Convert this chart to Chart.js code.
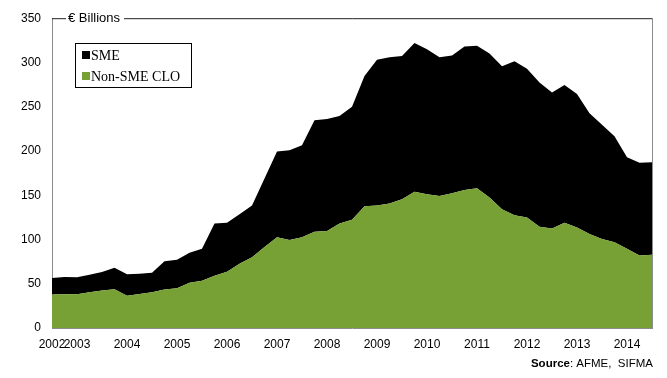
<!DOCTYPE html>
<html>
<head>
<meta charset="utf-8">
<script src="https://cdn.jsdelivr.net/npm/chart.js@4"></script>
<style>
  html, body { margin: 0; padding: 0; background: #fff; }
  #wrap { width: 667px; height: 378px; }
</style>
</head>
<body>
<div id="wrap"><canvas id="smeChart" width="667" height="378"></canvas></div>
<script>
// Quarterly, 2002 Q3 to 2014 Q3
const quarters = [
  '2002 Q3', '2002 Q4',
  '2003 Q1', '2003 Q2', '2003 Q3', '2003 Q4',
  '2004 Q1', '2004 Q2', '2004 Q3', '2004 Q4',
  '2005 Q1', '2005 Q2', '2005 Q3', '2005 Q4',
  '2006 Q1', '2006 Q2', '2006 Q3', '2006 Q4',
  '2007 Q1', '2007 Q2', '2007 Q3', '2007 Q4',
  '2008 Q1', '2008 Q2', '2008 Q3', '2008 Q4',
  '2009 Q1', '2009 Q2', '2009 Q3', '2009 Q4',
  '2010 Q1', '2010 Q2', '2010 Q3', '2010 Q4',
  '2011 Q1', '2011 Q2', '2011 Q3', '2011 Q4',
  '2012 Q1', '2012 Q2', '2012 Q3', '2012 Q4',
  '2013 Q1', '2013 Q2', '2013 Q3', '2013 Q4',
  '2014 Q1', '2014 Q2', '2014 Q3'
];

// € billions outstanding
const nonSmeClo = [
  37.8, 38.0, 38.0, 40.4, 42.3, 43.8, 36.3, 38.5, 40.4, 43.4,
  44.9, 51.2, 53.5, 59.1, 63.6, 72.6, 80.0, 91.6, 102.4, 99.5,
  102.4, 108.8, 109.6, 118.0, 122.3, 137.6, 138.3, 140.6, 145.5, 154.0,
  151.0, 149.2, 152.2, 156.0, 157.8, 147.3, 134.2, 127.5, 124.9, 114.4,
  112.5, 118.9, 113.6, 106.2, 100.6, 96.8, 89.4, 81.9, 82.7
];
const sme = [
  18.6, 19.6, 19.2, 19.8, 20.9, 24.2, 24.3, 22.8, 22.0, 32.1,
  32.1, 33.7, 35.9, 58.9, 55.4, 56.0, 58.5, 77.4, 97.1, 101.3,
  104.0, 126.0, 126.4, 121.5, 127.7, 147.0, 164.7, 165.4, 161.9, 168.0,
  164.0, 156.8, 155.8, 162.0, 161.2, 162.7, 161.6, 173.9, 168.1, 163.0,
  153.5, 155.6, 150.8, 136.5, 129.0, 119.7, 103.6, 104.7, 104.6
];

const GREEN = '#77a134';
const AXIS_GREY = '#8c8c8c';

// frame, unit label, boxed legend and source line
const decorations = {
  id: 'decorations',
  afterDatasetsDraw(chart) {
    const { ctx, chartArea: a } = chart;
    ctx.save();

    ctx.lineWidth = 1;
    ctx.strokeStyle = '#222';
    ctx.beginPath();
    ctx.moveTo(a.left, a.top + 0.5);
    ctx.lineTo(a.right + 0.5, a.top + 0.5);
    ctx.stroke();
    ctx.strokeStyle = AXIS_GREY;
    ctx.beginPath();
    ctx.moveTo(a.right + 0.5, a.top);
    ctx.lineTo(a.right + 0.5, a.bottom);
    ctx.stroke();

    // "€ Billions" sits on the top border
    ctx.font = '13px "Liberation Sans", Arial, sans-serif';
    ctx.textBaseline = 'middle';
    const unit = '€ Billions';
    const uw = ctx.measureText(unit).width;
    ctx.fillStyle = '#fff';
    ctx.fillRect(66, a.top - 7, uw + 6, 14);
    ctx.fillStyle = '#000';
    ctx.fillText(unit, 68, a.top + 0.5);

    // legend box
    ctx.fillStyle = '#fff';
    ctx.fillRect(75, 43, 116, 44);
    ctx.strokeStyle = '#000';
    ctx.strokeRect(75.5, 43.5, 116, 44);
    ctx.font = '14px "Liberation Serif", "Times New Roman", serif';
    const items = [
      { label: chart.data.datasets[1].label, color: '#000', y: 55 },
      { label: chart.data.datasets[0].label, color: GREEN, y: 76 }
    ];
    items.forEach(it => {
      ctx.fillStyle = it.color;
      ctx.fillRect(82, it.y - 4, 8, 8);
      ctx.fillStyle = '#000';
      ctx.fillText(it.label, 91, it.y + 1);
    });

    // source, right aligned under the plot
    ctx.font = 'bold 11.5px "Liberation Sans", Arial, sans-serif';
    const bold = 'Source';
    const bw = ctx.measureText(bold).width;
    ctx.font = '11.5px "Liberation Sans", Arial, sans-serif';
    const rest = ': AFME,  SIFMA';
    const rw = ctx.measureText(rest).width;
    const x0 = 653 - bw - rw;
    ctx.fillText(rest, x0 + bw, 364);
    ctx.font = 'bold 11.5px "Liberation Sans", Arial, sans-serif';
    ctx.fillText(bold, x0, 364);

    ctx.restore();
  }
};

new Chart(document.getElementById('smeChart'), {
  type: 'line',
  data: {
    labels: quarters,
    datasets: [
      {
        label: 'Non-SME CLO',
        data: nonSmeClo,
        backgroundColor: GREEN,
        borderWidth: 0,
        pointRadius: 0,
        fill: 'origin',
        tension: 0
      },
      {
        label: 'SME',
        data: sme,
        backgroundColor: '#000',
        borderWidth: 0,
        pointRadius: 0,
        fill: '-1',
        tension: 0
      }
    ]
  },
  options: {
    responsive: false,
    animation: false,
    layout: { padding: { left: 0, right: 15, top: 15, bottom: 0 } },
    plugins: {
      legend: { display: false },
      tooltip: { enabled: false }
    },
    scales: {
      x: {
        offset: false,
        grid: { display: false, drawTicks: false },
        border: { display: true, color: AXIS_GREY },
        ticks: {
          autoSkip: false,
          maxRotation: 0,
          padding: 9,
          color: '#000',
          font: { family: '"Liberation Sans", Arial, sans-serif', size: 12 },
          callback: (value, index) => {
            const q = quarters[index];
            return index === 0 || q.endsWith('Q1') ? q.slice(0, 4) : '';
          }
        },
        afterFit: scale => { scale.height = 50; }
      },
      y: {
        stacked: true,
        min: 0,
        max: 350,
        grid: { display: false, drawTicks: false },
        border: { display: true, color: AXIS_GREY },
        ticks: {
          stepSize: 50,
          padding: 11,
          color: '#000',
          font: { family: '"Liberation Sans", Arial, sans-serif', size: 12 }
        },
        afterFit: scale => { scale.width = 52; }
      }
    }
  },
  plugins: [decorations]
});
</script>
</body>
</html>
